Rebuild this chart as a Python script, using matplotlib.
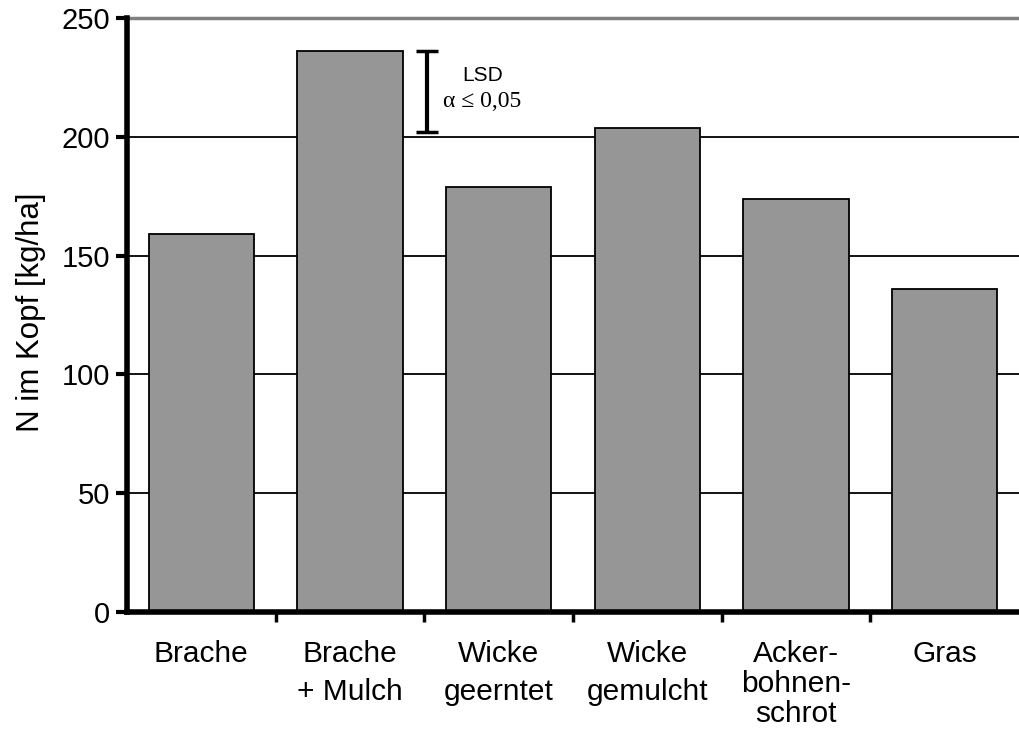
import matplotlib
matplotlib.use("Agg")
import matplotlib.pyplot as plt
import numpy as np

categories = ["Brache", "Brache\n+ Mulch", "Wicke\ngeerntet", "Wicke\ngemulcht", "Acker-\nbohnen-\nschrot", "Gras"]
values = [159, 236, 179, 203.5, 174, 136]
lsd_low, lsd_high = 202, 236
yticks = [0, 50, 100, 150, 200, 250]

plt.rcParams['font.family'] = ['Liberation Sans', 'DejaVu Sans']

fig = plt.figure(figsize=(10.19, 7.31), dpi=100)
ax = fig.add_axes([127/1019, 1-612/731, 1-127/1019, (612-18)/731])

x = np.arange(len(categories))
for yv in yticks[1:-1]:
    ax.axhline(yv, color='black', lw=1.3, zorder=1)
ax.axhline(250, color='#808080', lw=2.5, zorder=1, clip_on=False)

ax.bar(x, values, width=0.71, color='#969696', edgecolor='black', linewidth=1.3, zorder=2)

# LSD bar
ax.errorbar([1.52], [(lsd_low+lsd_high)/2], yerr=[[(lsd_high-lsd_low)/2]], fmt='none',
            ecolor='black', elinewidth=3, capsize=8, capthick=2.5, zorder=3)
ax.text(1.89, 226, "LSD", fontsize=15, ha='center', va='center')
ax.text(1.89, 215, "α ≤ 0,05", fontsize=17, ha='center', va='center', family=['Liberation Serif', 'DejaVu Serif'])

ax.set_xlim(-0.5, 5.5)
ax.set_ylim(0, 250)
ax.set_yticks(yticks)
ax.set_yticklabels([str(v) for v in yticks], fontsize=21)
ax.tick_params(axis='y', direction='out', length=8, width=3, pad=4)

ax.set_xticks(x)
ax.set_xticklabels(categories, fontsize=21.5, linespacing=1.45)
for lbl in ax.get_xticklabels():
    if lbl.get_text().count("\n") >= 2:
        lbl.set_linespacing(1.1)
ax.tick_params(axis='x', which='major', length=0, pad=20)
ax.set_xticks(np.arange(0.5, 5.5, 1), minor=True)
ax.tick_params(axis='x', which='minor', direction='out', length=7, width=2.5)

for s in ['top', 'right']:
    ax.spines[s].set_visible(False)
ax.spines['left'].set_linewidth(4)
ax.spines['bottom'].set_linewidth(4)
ax.spines['left'].set_zorder(4)
ax.spines['bottom'].set_zorder(4)

fig.text(31/1019, 1-312/731, "N im Kopf [kg/ha]", rotation=90, fontsize=22.5, ha='center', va='center')

fig.savefig("out.png", dpi=100)
